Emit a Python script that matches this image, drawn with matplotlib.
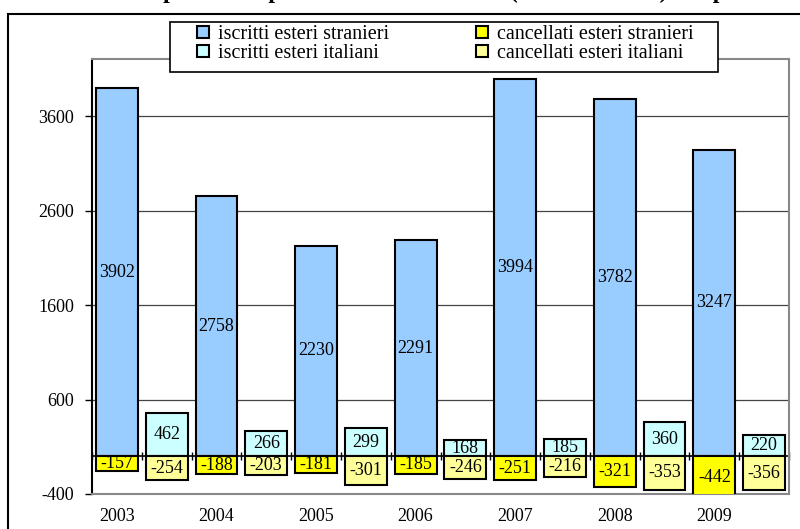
import numpy as np
import matplotlib.pyplot as plt
from matplotlib.patches import Rectangle, Patch

plt.rcParams['font.family'] = ['Liberation Serif', 'DejaVu Serif']
plt.rcParams['axes.unicode_minus'] = False

anni = ['2003', '2004', '2005', '2006', '2007', '2008', '2009']
iscr_stranieri = [3902, 2758, 2230, 2291, 3994, 3782, 3247]
iscr_italiani = [462, 266, 299, 168, 185, 360, 220]
canc_stranieri = [-157, -188, -181, -185, -251, -321, -442]
canc_italiani = [-254, -203, -301, -246, -216, -353, -356]

titolo_a = "Iscritti e cancellati per estero per sesso e cittadinanza"
titolo_b = "(valori assoluti) - in provincia di"

c_is = '#99CCFF'
c_ii = '#CCFFFF'
c_cs = '#FFFF00'
c_ci = '#FFFF99'

W, H = 800, 529
fig = plt.figure(figsize=(8, 5.29), dpi=100)
ax = fig.add_axes([92/W, 1-494/H, (789-92)/W, (494-59)/H])

n = len(anni)
x_s = np.arange(n) * 2       # stranieri
x_i = np.arange(n) * 2 + 1   # italiani
bw = 0.84

# outer frame
fig.patches.append(Rectangle((8/W, -0.1), 1.2, 1-14/H+0.1, transform=fig.transFigure,
                             fill=False, edgecolor='black', linewidth=1.5, zorder=0))

ax.set_ylim(-400, 4208)
ax.set_xlim(-0.5, 2*n - 0.5)
ax.set_yticks([-400, 600, 1600, 2600, 3600])
for v in [600, 1600, 2600, 3600]:
    ax.axhline(v, color='#444444', linewidth=0.9, zorder=1)

kw = dict(width=bw, edgecolor='black', linewidth=1.5, zorder=3)
b1 = ax.bar(x_s, iscr_stranieri, color=c_is, **kw)
b2 = ax.bar(x_s, canc_stranieri, color=c_cs, **kw)
b3 = ax.bar(x_i, iscr_italiani, color=c_ii, **kw)
b4 = ax.bar(x_i, canc_italiani, color=c_ci, **kw)

for bars, vals in [(b1, iscr_stranieri), (b2, canc_stranieri), (b3, iscr_italiani), (b4, canc_italiani)]:
    for b, v in zip(bars, vals):
        ax.text(b.get_x() + b.get_width()/2, v/2, str(v), ha='center', va='center',
                fontsize=13, zorder=4)

# zero line with small category ticks
ax.axhline(0, color='black', linewidth=1.2, zorder=2)
ax.plot(np.arange(2*n + 1) - 0.5, np.zeros(2*n + 1), linestyle='none', marker='|',
        markersize=6, color='black', zorder=2, clip_on=False)

ax.set_xticks(x_s)
ax.set_xticklabels(anni, fontsize=13)
ax.tick_params(axis='x', length=0, pad=10)
ax.tick_params(axis='y', labelsize=13, length=5, width=1, direction='out', pad=8)

for s in ['top', 'right', 'bottom']:
    ax.spines[s].set_color('#888888')
    ax.spines[s].set_linewidth(1.5)
ax.spines['left'].set_color('black')
ax.spines['left'].set_linewidth(1.5)

# legend box
fig.patches.append(Rectangle((170/W, 1-72/H), (718-170)/W, 50/H, transform=fig.transFigure,
                             facecolor='white', edgecolor='black', linewidth=1.2, zorder=5))
handles = [Patch(facecolor=c_is, edgecolor='black', linewidth=1.5),
           Patch(facecolor=c_ii, edgecolor='black', linewidth=1.5),
           Patch(facecolor=c_cs, edgecolor='black', linewidth=1.5),
           Patch(facecolor=c_ci, edgecolor='black', linewidth=1.5)]
labels = ['iscritti esteri stranieri', 'iscritti esteri italiani',
          'cancellati esteri stranieri', 'cancellati esteri italiani']
leg = fig.legend(handles, labels, ncol=2, loc='center', bbox_to_anchor=(445/W, 1-44/H),
                 frameon=False, fontsize=14.5, handlelength=0.6, handleheight=0.6,
                 handletextpad=0.45, columnspacing=4.3, labelspacing=0.0, borderpad=0)
leg.set_zorder(6)

# title, cut by the top edge as in the original
fig.text(505/W, 1+2/H, titolo_a, ha='right', va='baseline', fontsize=17, fontweight='bold')
fig.text(510/W, 1+2/H, titolo_b, ha='left', va='baseline', fontsize=17, fontweight='bold')

fig.savefig('out.png', dpi=100)
